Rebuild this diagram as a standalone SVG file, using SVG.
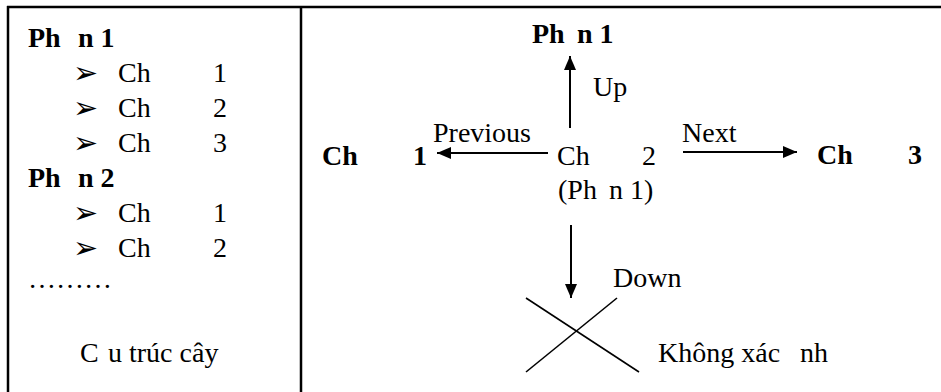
<svg xmlns="http://www.w3.org/2000/svg" width="941" height="392" viewBox="0 0 941 392">
<style>
text { font-family: "Liberation Serif", "Times New Roman", serif; font-size: 28px; fill: #000; }
.b { font-weight: bold; }
.bul { font-family: "DejaVu Sans", sans-serif; font-size: 30px; }
.frame { stroke: #000; stroke-width: 2.5; fill: none; }
.conn { stroke: #000; stroke-width: 2; fill: none; }
.cross { stroke: #000; stroke-width: 1.6; fill: none; }
</style>
<defs>
<marker id="ah" viewBox="0 0 14 12" refX="14" refY="6" markerWidth="14" markerHeight="12" markerUnits="userSpaceOnUse" orient="auto">
<path d="M0,0 L14,6 L0,12 Z" fill="#000"/>
</marker>
</defs>
<rect width="941" height="392" fill="#fff"/>
<g id="frame">
<line class="frame" x1="7" y1="7" x2="941" y2="7"/>
<line class="frame" x1="8" y1="6" x2="8" y2="392"/>
<line class="frame" x1="301" y1="6" x2="301" y2="392"/>
</g>
<g id="tree">
<text class="b" x="28" y="47"><tspan>Ph</tspan><tspan x="78">n 1</tspan></text>
<text class="bul" x="73" y="83">➢</text>
<text x="118" y="82"><tspan>Ch</tspan><tspan x="213">1</tspan></text>
<text class="bul" x="73" y="118">➢</text>
<text x="118" y="117"><tspan>Ch</tspan><tspan x="213">2</tspan></text>
<text class="bul" x="73" y="153">➢</text>
<text x="118" y="152"><tspan>Ch</tspan><tspan x="213">3</tspan></text>
<text class="b" x="28" y="187"><tspan>Ph</tspan><tspan x="78">n 2</tspan></text>
<text class="bul" x="73" y="223">➢</text>
<text x="118" y="222"><tspan>Ch</tspan><tspan x="213">1</tspan></text>
<text class="bul" x="73" y="258">➢</text>
<text x="118" y="257"><tspan>Ch</tspan><tspan x="213">2</tspan></text>
<text x="28" y="288">………</text>
<text x="80" y="362"><tspan>C</tspan><tspan x="108">u trúc cây</tspan></text>
</g>
<g id="connectors">
<line class="conn" x1="570" y1="128" x2="570" y2="56" marker-end="url(#ah)"/>
<line class="conn" x1="548" y1="153" x2="437" y2="153" marker-end="url(#ah)"/>
<line class="conn" x1="683" y1="152" x2="797" y2="152" marker-end="url(#ah)"/>
<line class="conn" x1="571" y1="225" x2="571" y2="298" marker-end="url(#ah)"/>
<text x="593" y="96">Up</text>
<text x="433" y="142">Previous</text>
<text x="682" y="142">Next</text>
<text x="613" y="287">Down</text>
</g>
<g id="node-up">
<text class="b" x="532" y="43"><tspan>Ph</tspan><tspan x="577">n 1</tspan></text>
</g>
<g id="node-prev">
<text class="b" x="322" y="165"><tspan>Ch</tspan><tspan x="413">1</tspan></text>
</g>
<g id="node-current">
<text x="557" y="165"><tspan>Ch</tspan><tspan x="642">2</tspan></text>
<text x="558" y="199"><tspan>(Ph</tspan><tspan x="609">n 1)</tspan></text>
</g>
<g id="node-next">
<text class="b" x="817" y="164"><tspan>Ch</tspan><tspan x="908">3</tspan></text>
</g>
<g id="node-down">
<line class="cross" x1="526" y1="298" x2="639" y2="372"/>
<line class="cross" x1="617" y1="298" x2="526" y2="372"/>
<text x="658" y="362"><tspan>Không xác</tspan><tspan x="800">nh</tspan></text>
</g>
</svg>
